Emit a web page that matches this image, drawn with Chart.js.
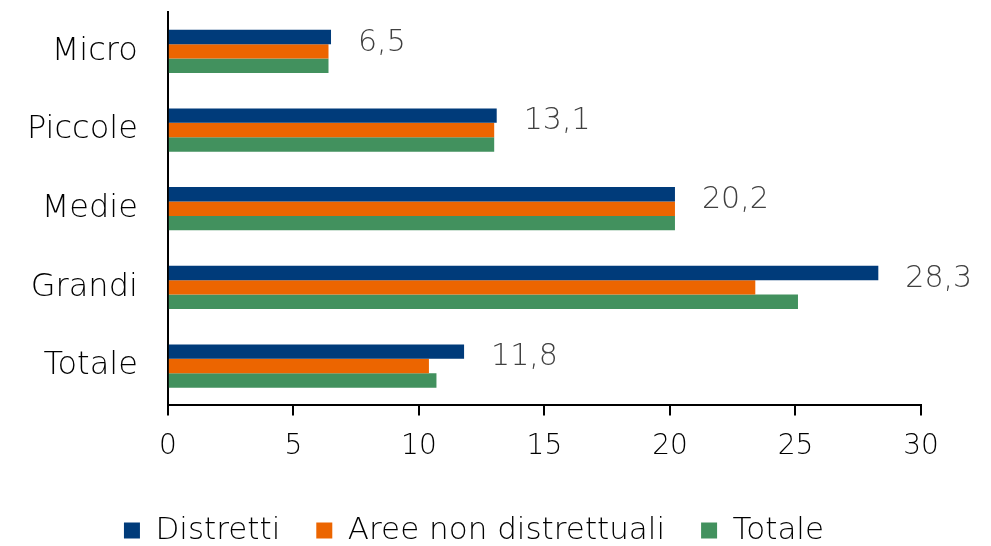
<!DOCTYPE html>
<html><head><meta charset="utf-8">
<script src="https://cdn.jsdelivr.net/npm/chart.js@4/dist/chart.umd.min.js"></script>
<style>html,body{margin:0;padding:0;background:#fff}#wrap{width:991px;height:546px}</style>
</head><body><div id="wrap"><canvas id="c" width="991" height="546"></canvas></div>
<script>
const categories = ["Micro", "Piccole", "Medie", "Grandi", "Totale"];
const distretti = [6.5, 13.1, 20.2, 28.3, 11.8];
const areeNonDistrettuali = [6.4, 13.0, 20.2, 23.4, 10.4];
const totale = [6.4, 13.0, 20.2, 25.1, 10.7];
const xTicks = [0, 5, 10, 15, 20, 25, 30];
const seriesNames = ["Distretti", "Aree non distrettuali", "Totale"];

const FONT = "'DejaVu Sans', sans-serif";
const W = 300;

const labelPlugin = {
  id: 'valueLabels',
  afterDatasetsDraw(chart) {
    const ctx = chart.ctx;
    const meta = chart.getDatasetMeta(0);
    ctx.save();
    ctx.fillStyle = '#404040';
    ctx.font = W + ' 30px ' + FONT;
    ctx.textAlign = 'left';
    ctx.textBaseline = 'middle';
    meta.data.forEach((bar, i) => {
      const v = distretti[i];
      ctx.fillText(v.toFixed(1).replace('.', ','), bar.x + 27, bar.y + 6);
    });
    ctx.restore();
  }
};

new Chart(document.getElementById('c'), {
  type: 'bar',
  data: {
    labels: categories,
    datasets: [
      {label: seriesNames[0], data: distretti, backgroundColor: '#003B7A'},
      {label: seriesNames[1], data: areeNonDistrettuali, backgroundColor: '#EC6500'},
      {label: seriesNames[2], data: totale, backgroundColor: '#42915E'}
    ]
  },
  options: {
    indexAxis: 'y',
    responsive: false,
    animation: false,
    layout: {padding: {top: 12, right: 70, left: 27, bottom: -10}},
    datasets: {bar: {categoryPercentage: 0.55, barPercentage: 1.0}},
    scales: {
      x: {
        min: 0, max: 30,
        afterBuildTicks: (s) => { s.ticks = xTicks.map(v => ({value: v})); },
        grid: {display: true, drawOnChartArea: false, drawTicks: true, tickLength: 10, color: '#000', lineWidth: 2},
        border: {display: true, color: '#000', width: 2},
        ticks: {color: '#000', font: {family: FONT, size: 28, weight: W}, padding: 15}
      },
      y: {
        grid: {display: true, drawOnChartArea: false, drawTicks: true, tickLength: 30, color: 'rgba(0,0,0,0)'},
        border: {display: true, color: '#000', width: 2},
        ticks: {color: '#000', font: {family: FONT, size: 32, weight: W, lineHeight: 0.7}, padding: 0}
      }
    },
    plugins: {
      legend: {
        position: 'bottom',
        labels: {boxWidth: 16, boxHeight: 16, color: '#000', font: {family: FONT, size: 31, weight: W}, padding: 36}
      },
      tooltip: {enabled: false}
    }
  },
  plugins: [labelPlugin]
});
</script></body></html>
